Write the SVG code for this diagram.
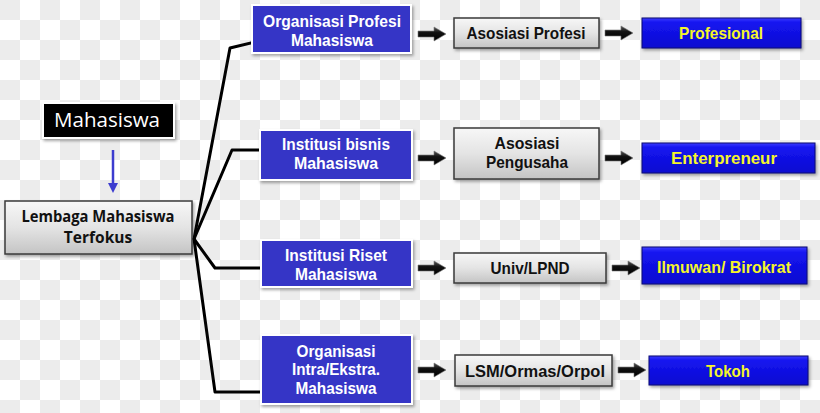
<svg xmlns="http://www.w3.org/2000/svg" width="820" height="413" viewBox="0 0 820 413">
<defs>
  <pattern id="checker" width="40" height="40" patternUnits="userSpaceOnUse">
    <rect width="40" height="40" fill="#ffffff"/>
    <rect x="0" y="0" width="20" height="20" fill="#ececec"/>
    <rect x="20" y="20" width="20" height="20" fill="#ececec"/>
  </pattern>
  <linearGradient id="grayGrad" x1="0" y1="0" x2="0" y2="1">
    <stop offset="0" stop-color="#f7f7f7"/>
    <stop offset="0.5" stop-color="#e4e4e4"/>
    <stop offset="1" stop-color="#c4c4c4"/>
  </linearGradient>
  <linearGradient id="blueGrad" x1="0" y1="0" x2="0" y2="1">
    <stop offset="0" stop-color="#3a3aff"/>
    <stop offset="0.15" stop-color="#1515f0"/>
    <stop offset="1" stop-color="#0a0ad0"/>
  </linearGradient>
  <linearGradient id="arrowGrad" x1="0" y1="0" x2="0" y2="1">
    <stop offset="0" stop-color="#555"/>
    <stop offset="0.4" stop-color="#111"/>
    <stop offset="1" stop-color="#000"/>
  </linearGradient>
  <filter id="shadow" x="-10%" y="-20%" width="125%" height="150%">
    <feDropShadow dx="1.5" dy="2" stdDeviation="1.5" flood-color="#000" flood-opacity="0.35"/>
  </filter>
  <marker id="blueHead" markerWidth="10" markerHeight="10" refX="5" refY="5" orient="auto" markerUnits="userSpaceOnUse">
    <path d="M0,0 L10,5 L0,10 Z" fill="#3c3ccf"/>
  </marker>
  <symbol id="fatArrow" viewBox="0 0 28 14" overflow="visible">
    <path d="M0,4 L16,4 L16,0 L28,7 L16,14 L16,10 L0,10 Z" fill="url(#arrowGrad)" stroke="#777" stroke-width="0.6"/>
  </symbol>
  <style>
    .mid { fill: #3434c6; stroke: #ffffff; stroke-width: 2; filter: url(#shadow); }
    .gray { fill: url(#grayGrad); stroke: #3a3a3a; stroke-width: 1.5; filter: url(#shadow); }
    .blue { fill: url(#blueGrad); stroke: #0a0a70; stroke-width: 1; filter: url(#shadow); }
    .tw { font-family: "Liberation Sans", Arial, sans-serif; font-weight: bold; font-size: 17px; fill: #ffffff; text-anchor: middle; }
    .tk { font-family: "Liberation Sans", Arial, sans-serif; font-weight: bold; font-size: 16.5px; fill: #111111; text-anchor: middle; }
    .ty { font-family: "Liberation Sans", Arial, sans-serif; font-weight: bold; font-size: 16.5px; fill: #f5f52a; text-anchor: middle; }
    .conn { fill: none; stroke: #000000; stroke-width: 3; stroke-linejoin: round; stroke-linecap: round; }
  </style>
</defs>

<rect width="820" height="413" fill="url(#checker)"/>

<g id="connectors">
  <line x1="113" y1="150" x2="113" y2="188" stroke="#3c3ccf" stroke-width="2.5" marker-end="url(#blueHead)"/>
  <path class="conn" d="M194,239 L230,48 L259,41"/>
  <path class="conn" d="M194,239 L232,150 L262,150"/>
  <path class="conn" d="M194,239 L215,268 L262,268"/>
  <path class="conn" d="M194,239 L215,392 L262,392"/>
  <use href="#fatArrow" x="418" y="27" width="28" height="14"/>
  <use href="#fatArrow" x="605" y="26" width="28" height="14"/>
  <use href="#fatArrow" x="418" y="151" width="28" height="14"/>
  <use href="#fatArrow" x="605" y="151" width="28" height="14"/>
  <use href="#fatArrow" x="418" y="261" width="28" height="14"/>
  <use href="#fatArrow" x="612" y="261" width="28" height="14"/>
  <use href="#fatArrow" x="418" y="363" width="28" height="14"/>
  <use href="#fatArrow" x="618" y="363" width="28" height="14"/>
</g>

<g id="mahasiswa">
  <rect x="43" y="103" width="131" height="35" fill="#000000" stroke="#ffffff" stroke-width="2" filter="url(#shadow)"/>
  <text x="107" y="127" font-family="'Open Sans', 'Noto Sans', sans-serif" font-size="20" fill="#ffffff" text-anchor="middle" textLength="106" lengthAdjust="spacingAndGlyphs">Mahasiswa</text>
</g>

<g id="lembaga">
  <rect x="5" y="201" width="187" height="53" class="gray"/>
  <text x="98" y="222" font-family="'Open Sans', 'Noto Sans', sans-serif" font-weight="bold" font-size="15.5" fill="#111" text-anchor="middle" textLength="153" lengthAdjust="spacingAndGlyphs">Lembaga Mahasiswa</text>
  <text x="98" y="243" font-family="'Open Sans', 'Noto Sans', sans-serif" font-weight="bold" font-size="15.5" fill="#111" text-anchor="middle">Terfokus</text>
</g>

<g id="org-profesi">
  <rect x="252" y="5" width="159" height="48" class="mid"/>
  <text x="332" y="27" class="tw" textLength="138" lengthAdjust="spacingAndGlyphs">Organisasi Profesi</text>
  <text x="332" y="46" class="tw" textLength="82" lengthAdjust="spacingAndGlyphs">Mahasiswa</text>
</g>
<g id="inst-bisnis">
  <rect x="260" y="130" width="152" height="50" class="mid"/>
  <text x="336" y="150" class="tw" textLength="108" lengthAdjust="spacingAndGlyphs">Institusi bisnis</text>
  <text x="336" y="169" class="tw" textLength="84" lengthAdjust="spacingAndGlyphs">Mahasiswa</text>
</g>
<g id="inst-riset">
  <rect x="261" y="240" width="151" height="47" class="mid"/>
  <text x="336" y="261" class="tw" textLength="102" lengthAdjust="spacingAndGlyphs">Institusi Riset</text>
  <text x="336" y="280" class="tw" textLength="82" lengthAdjust="spacingAndGlyphs">Mahasiswa</text>
</g>
<g id="org-intra">
  <rect x="261" y="335" width="151" height="69" class="mid"/>
  <text x="336" y="357" class="tw" textLength="79" lengthAdjust="spacingAndGlyphs">Organisasi</text>
  <text x="336" y="375" class="tw" textLength="88" lengthAdjust="spacingAndGlyphs">Intra/Ekstra.</text>
  <text x="336" y="394" class="tw" textLength="81" lengthAdjust="spacingAndGlyphs">Mahasiswa</text>
</g>

<g id="asosiasi-profesi">
  <rect x="454" y="18" width="145" height="30" class="gray"/>
  <text x="526" y="39" class="tk" textLength="119" lengthAdjust="spacingAndGlyphs">Asosiasi  Profesi</text>
</g>
<g id="asosiasi-pengusaha">
  <rect x="454" y="128" width="145" height="51" class="gray"/>
  <text x="527" y="149" class="tk" textLength="65" lengthAdjust="spacingAndGlyphs">Asosiasi</text>
  <text x="527" y="168" class="tk" textLength="82" lengthAdjust="spacingAndGlyphs">Pengusaha</text>
</g>
<g id="univ-lpnd">
  <rect x="454" y="253" width="152" height="30" class="gray"/>
  <text x="530" y="274" class="tk" textLength="79" lengthAdjust="spacingAndGlyphs">Univ/LPND</text>
</g>
<g id="lsm">
  <rect x="455" y="355" width="157" height="31" class="gray"/>
  <text x="535" y="377" class="tk" textLength="140" lengthAdjust="spacingAndGlyphs">LSM/Ormas/Orpol</text>
</g>

<g id="profesional">
  <rect x="642" y="18" width="159" height="30" class="blue"/>
  <text x="721" y="39" class="ty" textLength="84" lengthAdjust="spacingAndGlyphs">Profesional</text>
</g>
<g id="enterpreneur">
  <rect x="642" y="143" width="173" height="30" class="blue"/>
  <text x="724" y="164" class="ty" textLength="106" lengthAdjust="spacingAndGlyphs">Enterpreneur</text>
</g>
<g id="ilmuwan">
  <rect x="642" y="247" width="165" height="37" class="blue"/>
  <text x="724" y="273" class="ty" textLength="134" lengthAdjust="spacingAndGlyphs">Ilmuwan/ Birokrat</text>
</g>
<g id="tokoh">
  <rect x="649" y="356" width="159" height="29" class="blue"/>
  <text x="728" y="377" class="ty" textLength="44" lengthAdjust="spacingAndGlyphs">Tokoh</text>
</g>
</svg>
